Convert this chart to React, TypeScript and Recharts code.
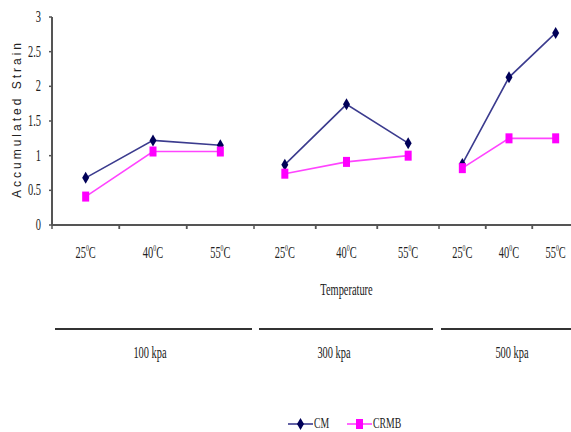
import { Line, LineChart, XAxis, YAxis } from "recharts";

const temperatures = ["25", "40", "55"];
const pressures = ["100 kpa", "300 kpa", "500 kpa"];
const cmStrain = [
  [0.68, 1.22, 1.15],
  [0.87, 1.74, 1.18],
  [0.88, 2.13, 2.77],
];
const crmbStrain = [
  [0.41, 1.06, 1.06],
  [0.74, 0.91, 1.0],
  [0.82, 1.25, 1.25],
];
const yTicks = [0, 0.5, 1, 1.5, 2, 2.5, 3];

const SERIF = "'Liberation Serif', 'Times New Roman', serif";
const SANS = "'Liberation Sans', Arial, sans-serif";
const SQUEEZE = 0.65;
const AXIS = "#555";

const series = [
  { key: "cm", name: "CM", line: "#3b3b8e", marker: "#000058", shape: "diamond" },
  { key: "crmb", name: "CRMB", line: "#ff44ff", marker: "#ff00ff", shape: "square" },
];

// each pressure group is its own small chart, laid side by side
const groups = [
  { left: 0, width: 254, yAxis: true },
  { left: 254, width: 185, yAxis: false },
  { left: 439, width: 140, yAxis: false },
];
const PLOT_TOP = 17;
const PLOT_BOTTOM = 225;
const CHART_H = 300;
const X_AXIS_H = 75;

function Marker({ cx, cy, shape, color }: any) {
  if (cx == null || cy == null) return null;
  if (shape === "diamond") {
    return (
      <polygon
        points={`${cx},${cy - 6} ${cx + 3.5},${cy} ${cx},${cy + 6} ${cx - 3.5},${cy}`}
        fill={color}
      />
    );
  }
  return <rect x={cx - 3.5} y={cy - 5} width={7} height={10} fill={color} />;
}

function Squeezed({ x, y, children, anchor = "middle", size = 16 }: any) {
  return (
    <text
      transform={`translate(${x},${y}) scale(${SQUEEZE},1)`}
      textAnchor={anchor}
      fontFamily={SERIF}
      fontSize={size}
      fill="#222"
    >
      {children}
    </text>
  );
}

function TempTick({ x, y, payload, band }: any) {
  const half = band / 2;
  return (
    <g>
      <line x1={x - half} y1={y} x2={x - half} y2={y + 4} stroke={AXIS} strokeWidth={1.5} />
      <line x1={x + half} y1={y} x2={x + half} y2={y + 4} stroke={AXIS} strokeWidth={1.5} />
      <Squeezed x={x} y={y + 33}>
        {payload.value}
        <tspan dy={-7} fontSize={9}>0</tspan>
        <tspan dy={7}>C</tspan>
      </Squeezed>
    </g>
  );
}

function StrainTick({ x, y, payload }: any) {
  return (
    <Squeezed x={x} y={y + 5} anchor="end">
      {String(payload.value)}
    </Squeezed>
  );
}

function XTitle({ viewBox }: any) {
  return (
    <Squeezed x={viewBox.x + viewBox.width / 2} y={viewBox.y + 70}>
      Temperature
    </Squeezed>
  );
}

function GroupChart({ index }: { index: number }) {
  const g = groups[index];
  const plotW = g.width - (g.yAxis ? 52 : 0);
  const band = plotW / temperatures.length;
  const data = temperatures.map((t, i) => ({
    temp: t,
    cm: cmStrain[index][i],
    crmb: crmbStrain[index][i],
  }));
  return (
    <div style={{ position: "absolute", left: g.left, top: 0 }}>
      <LineChart
        width={g.width}
        height={CHART_H}
        data={data}
        margin={{ top: PLOT_TOP, right: 0, bottom: 0, left: 0 }}
      >
        <XAxis
          dataKey="temp"
          interval={0}
          height={X_AXIS_H}
          padding={{ left: band / 2, right: band / 2 }}
          tickLine={false}
          tickSize={0}
          tickMargin={0}
          axisLine={{ stroke: AXIS, strokeWidth: 2 }}
          tick={(p: any) => <TempTick {...p} band={band} />}
          label={index === 1 ? <XTitle /> : undefined}
        />
        {g.yAxis ? (
          <YAxis
            width={52}
            domain={[0, 3]}
            ticks={yTicks}
            tickSize={3}
            tickMargin={8}
            axisLine={{ stroke: AXIS, strokeWidth: 2 }}
            tickLine={{ stroke: AXIS, strokeWidth: 1.5 }}
            tick={<StrainTick />}
          />
        ) : (
          <YAxis hide domain={[0, 3]} ticks={yTicks} />
        )}
        {series.map((s) => (
          <Line
            key={s.key}
            dataKey={s.key}
            name={s.name}
            stroke={s.line}
            strokeWidth={1.6}
            isAnimationActive={false}
            dot={(p: any) => (
              <Marker key={`${s.key}-${p.index}`} cx={p.cx} cy={p.cy} shape={s.shape} color={s.marker} />
            )}
            activeDot={false}
          />
        ))}
      </LineChart>
    </div>
  );
}

const groupLines = [
  [55, 252],
  [259, 433],
  [441, 571],
];
const groupLabelX = [150, 334, 512];

export default function App() {
  return (
    <div
      style={{
        position: "fixed",
        left: 0,
        top: 0,
        width: 571,
        height: 432,
        overflow: "hidden",
        background: "#fff",
      }}
    >
      {groups.map((_, i) => (
        <GroupChart key={i} index={i} />
      ))}
      <svg width={571} height={432} style={{ position: "absolute", left: 0, top: 0, pointerEvents: "none" }}>
        <text
          transform={`translate(17,${(PLOT_TOP + PLOT_BOTTOM) / 2 - 2}) rotate(-90)`}
          textAnchor="middle"
          dominantBaseline="central"
          fontFamily={SANS}
          fontSize={12}
          letterSpacing={3}
          fill="#222"
        >
          Accumulated Strain
        </text>
        {pressures.map((p, i) => (
          <g key={p}>
            <line x1={groupLines[i][0]} y1={329} x2={groupLines[i][1]} y2={329} stroke="#333" strokeWidth={2} />
            <Squeezed x={groupLabelX[i]} y={358}>
              {p}
            </Squeezed>
          </g>
        ))}
        {series.map((s, i) => {
          const x0 = 288 + i * 59;
          return (
            <g key={s.key}>
              <line x1={x0} y1={424} x2={x0 + 25} y2={424} stroke={s.line} strokeWidth={1.6} />
              <Marker cx={x0 + 12.5} cy={424} shape={s.shape} color={s.marker} />
              <Squeezed x={x0 + 26} y={428} anchor="start" size={15}>
                {s.name}
              </Squeezed>
            </g>
          );
        })}
      </svg>
    </div>
  );
}
